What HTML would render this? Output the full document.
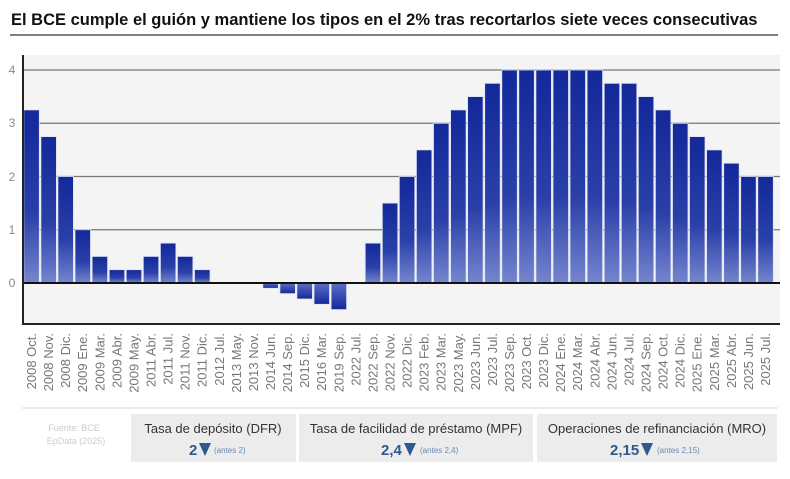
<!DOCTYPE html>
<html><head><meta charset="utf-8"><style>
body{margin:0;background:#fff;width:790px;height:474px;overflow:hidden;font-family:"Liberation Sans",sans-serif}
</style></head><body>
<svg width="790" height="474" viewBox="0 0 790 474" xmlns="http://www.w3.org/2000/svg" font-family="Liberation Sans, sans-serif">
<defs>
<linearGradient id="gp" x1="0" y1="0" x2="0" y2="1"><stop offset="0" stop-color="#13289a"/><stop offset="0.6" stop-color="#2a40a8"/><stop offset="1" stop-color="#7585cf"/></linearGradient>
<linearGradient id="gn" x1="0" y1="0" x2="0" y2="1"><stop offset="0" stop-color="#5d6fc4"/><stop offset="1" stop-color="#13289a"/></linearGradient>
</defs>
<text x="11" y="25" font-size="16.5" font-weight="bold" fill="#111">El BCE cumple el guión y mantiene los tipos en el 2% tras recortarlos siete veces consecutivas</text>
<line x1="10" y1="35" x2="778" y2="35" stroke="#555" stroke-width="1.5"/>
<rect x="23" y="55" width="757" height="269" fill="#f4f4f4"/>
<g stroke="#777" stroke-width="1.2">
<line x1="23" y1="70" x2="780" y2="70"/><line x1="23" y1="123.25" x2="780" y2="123.25"/><line x1="23" y1="176.5" x2="780" y2="176.5"/><line x1="23" y1="229.75" x2="780" y2="229.75"/>
</g>
<g fill="#888" font-size="12" text-anchor="middle">
<text x="12" y="74">4</text><text x="12" y="127">3</text><text x="12" y="181">2</text><text x="12" y="234">1</text><text x="12" y="287">0</text>
</g>
<g fill="url(#gp)" stroke="#dfe3f3" stroke-width="0.8">
<rect x="23.8" y="109.9" width="15.5" height="173.1"/>
<rect x="40.9" y="136.6" width="15.5" height="146.4"/>
<rect x="57.9" y="176.5" width="15.5" height="106.5"/>
<rect x="75.0" y="229.75" width="15.5" height="53.25"/>
<rect x="92.1" y="256.4" width="15.5" height="26.6"/>
<rect x="109.2" y="269.7" width="15.5" height="13.3"/>
<rect x="126.2" y="269.7" width="15.5" height="13.3"/>
<rect x="143.3" y="256.4" width="15.5" height="26.6"/>
<rect x="160.4" y="243.1" width="15.5" height="39.9"/>
<rect x="177.4" y="256.4" width="15.5" height="26.6"/>
<rect x="194.5" y="269.7" width="15.5" height="13.3"/>
<rect x="365.2" y="243.1" width="15.5" height="39.9"/>
<rect x="382.3" y="203.1" width="15.5" height="79.9"/>
<rect x="399.3" y="176.5" width="15.5" height="106.5"/>
<rect x="416.4" y="149.9" width="15.5" height="133.1"/>
<rect x="433.5" y="123.25" width="15.5" height="159.75"/>
<rect x="450.6" y="109.9" width="15.5" height="173.1"/>
<rect x="467.6" y="96.6" width="15.5" height="186.4"/>
<rect x="484.7" y="83.3" width="15.5" height="199.7"/>
<rect x="501.8" y="70" width="15.5" height="213"/>
<rect x="518.8" y="70" width="15.5" height="213"/>
<rect x="535.9" y="70" width="15.5" height="213"/>
<rect x="553.0" y="70" width="15.5" height="213"/>
<rect x="570.0" y="70" width="15.5" height="213"/>
<rect x="587.1" y="70" width="15.5" height="213"/>
<rect x="604.2" y="83.3" width="15.5" height="199.7"/>
<rect x="621.3" y="83.3" width="15.5" height="199.7"/>
<rect x="638.3" y="96.6" width="15.5" height="186.4"/>
<rect x="655.4" y="109.9" width="15.5" height="173.1"/>
<rect x="672.5" y="123.25" width="15.5" height="159.75"/>
<rect x="689.5" y="136.6" width="15.5" height="146.4"/>
<rect x="706.6" y="149.9" width="15.5" height="133.1"/>
<rect x="723.7" y="163.2" width="15.5" height="119.8"/>
<rect x="740.7" y="176.5" width="15.5" height="106.5"/>
<rect x="757.8" y="176.5" width="15.5" height="106.5"/>
</g>
<g fill="url(#gn)" stroke="#dfe3f3" stroke-width="0.8">
<rect x="262.8" y="283" width="15.5" height="5.3"/>
<rect x="279.9" y="283" width="15.5" height="10.65"/>
<rect x="296.9" y="283" width="15.5" height="16"/>
<rect x="314.0" y="283" width="15.5" height="21.3"/>
<rect x="331.1" y="283" width="15.5" height="26.6"/>
</g>
<line x1="23" y1="283" x2="780" y2="283" stroke="#111" stroke-width="2"/>
<line x1="23" y1="324" x2="780" y2="324" stroke="#222" stroke-width="2"/>
<line x1="23" y1="55" x2="23" y2="325" stroke="#222" stroke-width="2"/>
<g fill="#777" font-size="13" text-anchor="end">
<text transform="translate(36,333) rotate(-90)">2008 Oct.</text>
<text transform="translate(53.1,333) rotate(-90)">2008 Nov.</text>
<text transform="translate(70.1,333) rotate(-90)">2008 Dic.</text>
<text transform="translate(87.2,333) rotate(-90)">2009 Ene.</text>
<text transform="translate(104.3,333) rotate(-90)">2009 Mar.</text>
<text transform="translate(121.4,333) rotate(-90)">2009 Abr.</text>
<text transform="translate(138.4,333) rotate(-90)">2009 May.</text>
<text transform="translate(155.5,333) rotate(-90)">2011 Abr.</text>
<text transform="translate(172.6,333) rotate(-90)">2011 Jul.</text>
<text transform="translate(189.6,333) rotate(-90)">2011 Nov.</text>
<text transform="translate(206.7,333) rotate(-90)">2011 Dic.</text>
<text transform="translate(223.8,333) rotate(-90)">2012 Jul.</text>
<text transform="translate(240.8,333) rotate(-90)">2013 May.</text>
<text transform="translate(257.9,333) rotate(-90)">2013 Nov.</text>
<text transform="translate(275,333) rotate(-90)">2014 Jun.</text>
<text transform="translate(292.1,333) rotate(-90)">2014 Sep.</text>
<text transform="translate(309.1,333) rotate(-90)">2015 Dic.</text>
<text transform="translate(326.2,333) rotate(-90)">2016 Mar.</text>
<text transform="translate(343.3,333) rotate(-90)">2019 Sep.</text>
<text transform="translate(360.3,333) rotate(-90)">2022 Jul.</text>
<text transform="translate(377.4,333) rotate(-90)">2022 Sep.</text>
<text transform="translate(394.5,333) rotate(-90)">2022 Nov.</text>
<text transform="translate(411.5,333) rotate(-90)">2022 Dic.</text>
<text transform="translate(428.6,333) rotate(-90)">2023 Feb.</text>
<text transform="translate(445.7,333) rotate(-90)">2023 Mar.</text>
<text transform="translate(462.8,333) rotate(-90)">2023 May.</text>
<text transform="translate(479.8,333) rotate(-90)">2023 Jun.</text>
<text transform="translate(496.9,333) rotate(-90)">2023 Jul.</text>
<text transform="translate(514,333) rotate(-90)">2023 Sep.</text>
<text transform="translate(531,333) rotate(-90)">2023 Oct.</text>
<text transform="translate(548.1,333) rotate(-90)">2023 Dic.</text>
<text transform="translate(565.2,333) rotate(-90)">2024 Ene.</text>
<text transform="translate(582.2,333) rotate(-90)">2024 Mar.</text>
<text transform="translate(599.3,333) rotate(-90)">2024 Abr.</text>
<text transform="translate(616.4,333) rotate(-90)">2024 Jun.</text>
<text transform="translate(633.5,333) rotate(-90)">2024 Jul.</text>
<text transform="translate(650.5,333) rotate(-90)">2024 Sep.</text>
<text transform="translate(667.6,333) rotate(-90)">2024 Oct.</text>
<text transform="translate(684.7,333) rotate(-90)">2024 Dic.</text>
<text transform="translate(701.7,333) rotate(-90)">2025 Ene.</text>
<text transform="translate(718.8,333) rotate(-90)">2025 Mar.</text>
<text transform="translate(735.9,333) rotate(-90)">2025 Abr.</text>
<text transform="translate(752.9,333) rotate(-90)">2025 Jun.</text>
<text transform="translate(770,333) rotate(-90)">2025 Jul.</text>
</g>
<line x1="22" y1="408" x2="778" y2="408" stroke="#e6e6e6" stroke-width="1.5"/>
<text x="74" y="431" font-size="9" fill="#ccc" text-anchor="middle">Fuente: BCE</text>
<text x="76" y="444" font-size="9" fill="#ccc" text-anchor="middle">EpData (2025)</text>
<rect x="131" y="414" width="165" height="48" fill="#ececec"/>
<rect x="299" y="414" width="234" height="48" fill="#ececec"/>
<rect x="537" y="414" width="240" height="48" fill="#ececec"/>
<g font-size="13" fill="#333" text-anchor="middle">
<text x="213" y="433">Tasa de depósito (DFR)</text>
<text x="416" y="433">Tasa de facilidad de préstamo (MPF)</text>
<text x="657" y="433">Operaciones de refinanciación (MRO)</text>
</g>
<g fill="#2c5a8c">
<text x="189" y="455" font-size="15" font-weight="bold">2</text>
<polygon points="199,443 211,443 205,456"/>
<text x="214" y="453" font-size="8" fill="#6a8ab0">(antes 2)</text>
<text x="381" y="455" font-size="15" font-weight="bold">2,4</text>
<polygon points="404,443 416,443 410,456"/>
<text x="420" y="453" font-size="8" fill="#6a8ab0">(antes 2,4)</text>
<text x="610" y="455" font-size="15" font-weight="bold">2,15</text>
<polygon points="641,443 653,443 647,456"/>
<text x="657" y="453" font-size="8" fill="#6a8ab0">(antes 2,15)</text>
</g>
</svg>
</body></html>
